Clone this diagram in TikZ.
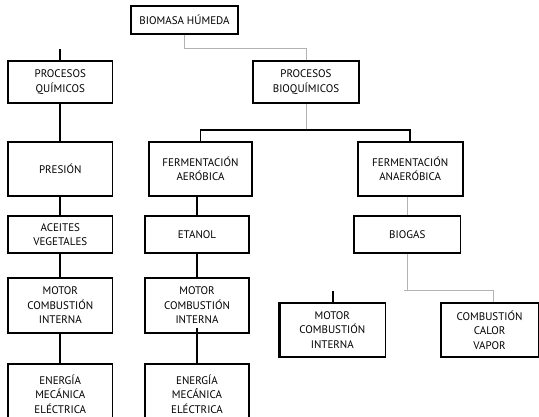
\documentclass[tikz,border=0pt]{standalone}
\usepackage{fontspec}
\setmainfont{PT Sans}
\tikzset{
    caja/.style={draw=black, line width=1.6pt, rectangle, align=center, inner sep=0pt,
        minimum width=104.5pt, font=\fontsize{11}{14.5}\selectfont},
    enlace/.style={black, line width=1.9pt},
    enlacegris/.style={black!30, line width=1pt}
}

\begin{document}
\begin{tikzpicture}[x=1pt, y=-1pt]
    \useasboundingbox (0,0) rectangle (539,416);
    \clip (0,0) rectangle (539,416);

    \node[caja, minimum width=107pt, minimum height=28pt] (biomasa) at (184.5,20) {BIOMASA HÚMEDA};
    \node[caja, minimum height=42pt] (quimicos) at (60.3,82) {PROCESOS\\QUÍMICOS};
    \node[caja, minimum width=105.7pt, minimum height=42pt] (bioquimicos) at (306,82) {PROCESOS\\BIOQUÍMICOS};
    \node[caja, minimum height=54pt] (presion) at (60.3,169) {PRESIÓN};
    \node[caja, minimum width=103pt, minimum height=54pt] (aerobica) at (200.5,169) {FERMENTACIÓN\\AERÓBICA};
    \node[caja, minimum width=105pt, minimum height=54pt] (anaerobica) at (410.2,169) {FERMENTACIÓN\\ANAERÓBICA};
    \node[caja, minimum height=37pt] (aceites) at (60.3,234.5) {ACEITES\\VEGETALES};
    \node[caja, minimum width=104pt, minimum height=37pt] (etanol) at (197,234.5) {ETANOL};
    \node[caja, minimum width=106.7pt, minimum height=37pt] (biogas) at (407.3,234.5) {BIOGAS};
    \node[caja, minimum height=55pt] (motorA) at (60.3,305.5) {MOTOR\\COMBUSTIÓN\\INTERNA};
    \node[caja, minimum width=104pt, minimum height=55pt] (motorB) at (197,305.5) {MOTOR\\COMBUSTIÓN\\INTERNA};
    \node[caja, minimum width=106.7pt, minimum height=54pt] (motorC) at (332.3,330) {MOTOR\\COMBUSTIÓN\\INTERNA};
    \node[caja, minimum width=97.8pt, minimum height=54pt] (combustion) at (489.6,330) {COMBUSTIÓN\\CALOR\\VAPOR};
    \node[caja, minimum height=60pt] (energiaA) at (60.3,394) {ENERGÍA\\MECÁNICA\\ELÉCTRICA};
    \node[caja, minimum width=104pt, minimum height=60pt] (energiaB) at (197,394) {ENERGÍA\\MECÁNICA\\ELÉCTRICA};
    \draw[line width=3.2pt] ([xshift=1pt]motorC.north west) -- ([xshift=1pt]motorC.south west);

    \coordinate (topeQ) at (60.3,49);
    \coordinate (cruceA) at (306,130);
    \coordinate (cruceB) at (407.3,290);
    \coordinate (topeM) at (333.3,291);

    \draw[enlace] (topeQ) -- (quimicos);
    \draw[enlace] (quimicos) -- (presion);
    \draw[enlace] (presion) -- (aceites);
    \draw[enlace] (aceites) -- (motorA);
    \draw[enlace] (motorA) -- (energiaA);

    \draw[enlacegris] (biomasa.south) -- ++(0,14) -| (bioquimicos.north);
    \draw[enlacegris] (bioquimicos) -- (cruceA);
    \draw[enlace] (aerobica.north) |- (cruceA) -| (anaerobica.north);

    \draw[enlace] (etanol.north) -- (etanol.north |- aerobica.south);
    \draw[enlace] (etanol) -- (motorB);
    \draw[enlace, shorten <=-6pt] (motorB) -- (energiaB);

    \draw[enlacegris] (biogas.north) -- (biogas.north |- anaerobica.south);
    \draw[enlacegris] (biogas) -- (cruceB);
    \draw[enlacegris] ([xshift=-3pt]cruceB) -| ([xshift=4pt]combustion.north);
    \draw[enlace] (topeM) -- (topeM |- motorC.north);
\end{tikzpicture}
\end{document}
